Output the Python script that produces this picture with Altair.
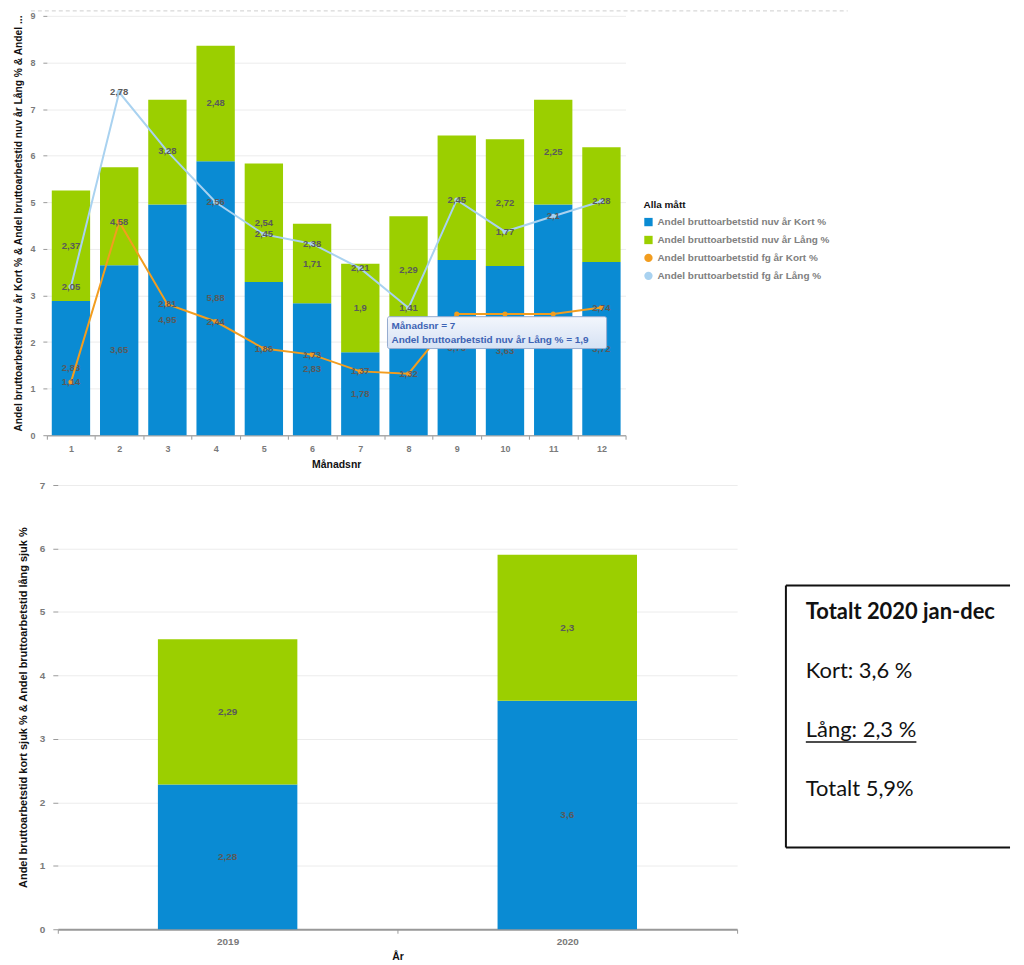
import altair as alt
import pandas as pd

# ---------------- data ----------------
months = list(range(1, 13))
nuv_kort = [2.88, 3.65, 4.95, 5.88, 3.29, 2.83, 1.78, 2.41, 3.76, 3.63, 4.95, 3.72]
nuv_lang = [2.37, 2.10, 2.25, 2.48, 2.54, 1.71, 1.90, 2.29, 2.67, 2.72, 2.25, 2.46]
fg_kort = [1.14, 4.58, 2.81, 2.44, 1.86, 1.73, 1.37, 1.32, 2.60, 2.60, 2.60, 2.74]
fg_lang = [2.05, 2.78, 3.28, 2.56, 2.45, 2.38, 2.21, 1.41, 2.45, 1.77, 2.10, 2.28]

hidden_nuv_kort_labels = [5, 8, 11]
hidden_nuv_lang_labels = [2, 3, 9, 12]
hidden_fg_kort_labels = [9, 10, 11]

years = ["2019", "2020"]
year_kort = [2.28, 3.6]
year_lang = [2.29, 2.3]

series = [
    "Andel bruttoarbetstid nuv år Kort %",
    "Andel bruttoarbetstid nuv år Lång %",
    "Andel bruttoarbetstid fg år Kort %",
    "Andel bruttoarbetstid fg år Lång %",
]
colors = ["#0a8bd3", "#9bcf00", "#f29d1f", "#a9d2f0"]
shapes = ["square", "square", "circle", "circle"]

top_y_title = "Andel bruttoarbetstid nuv år Kort % & Andel bruttoarbetstid nuv år Lång % & Andel ..."
bottom_y_title = "Andel bruttoarbetstid kort sjuk % & Andel bruttoarbetstid lång sjuk %"
tip_month = 7


def sv(v):
    s = f"{v:.2f}".rstrip("0").rstrip(".")
    return s.replace(".", ",")


FONT = "Liberation Sans"
LABEL_COLOR = "#7a7a7a"
VAL_COLOR = "#5a5a5a"
col_of = dict(zip(series, colors))

SHIFT = 11  # top plot starts further left than the bottom plot
TOP_W, TOP_H = 570, 421

# ---------------- top chart ----------------
bar_rows = []
for m, k, l in zip(months, nuv_kort, nuv_lang):
    bar_rows.append(dict(month=m, serie=series[0], col=col_of[series[0]], start=0, end=k,
                         mid=k / 2, label=sv(k), show=m not in hidden_nuv_kort_labels))
    bar_rows.append(dict(month=m, serie=series[1], col=col_of[series[1]], start=k, end=k + l,
                         mid=k + l / 2, label=sv(l), show=m not in hidden_nuv_lang_labels))
bars_df = pd.DataFrame(bar_rows)

line_rows = []
for m, k, l in zip(months, fg_kort, fg_lang):
    line_rows.append(dict(month=m, serie=series[2], col=col_of[series[2]], y=k, label=sv(k),
                          show=m not in hidden_fg_kort_labels))
    line_rows.append(dict(month=m, serie=series[3], col=col_of[series[3]], y=k + l, label=sv(l),
                          show=True))
lines_df = pd.DataFrame(line_rows)

color_scale = alt.Scale(domain=series, range=colors)
shape_scale = alt.Scale(domain=series, range=shapes)

xm = alt.X(
    "month:O",
    title="Månadsnr",
    scale=alt.Scale(paddingInner=0, paddingOuter=0, range=[-SHIFT, TOP_W]),
    axis=alt.Axis(
        labelAngle=0, labelFont=FONT, labelFontSize=9, labelFontWeight="bold",
        labelColor=LABEL_COLOR, tickColor="#999", tickSize=4, labelPadding=5,
        domainColor="#aaa", domainWidth=1.5, tickBand="extent",
        titleFont=FONT, titleFontSize=10.5, titleFontWeight="bold", titleColor="#111",
        titlePadding=6, grid=False,
    ),
)
ytop_axis = alt.Axis(
    values=list(range(10)), format="d", title=None, offset=SHIFT,
    labelFont=FONT, labelFontSize=9, labelFontWeight="bold",
    labelColor=LABEL_COLOR, tickColor="#999", tickSize=4, labelPadding=8,
    domain=False, gridColor="#ececec",
)
ytop_scale = alt.Scale(domain=[0, 9], nice=False)


def ytop(field):
    return alt.Y(field, scale=ytop_scale, axis=ytop_axis)


bars = alt.Chart(bars_df).mark_bar(width=38.5).encode(
    x=xm,
    y=ytop("start:Q"),
    y2="end:Q",
    color=alt.Color("col:N", scale=None),
)
bar_labels = alt.Chart(bars_df).transform_filter("datum.show").mark_text(
    font=FONT, fontSize=9.5, fontWeight="bold", color=VAL_COLOR
).encode(x=xm, y=ytop("mid:Q"), text="label:N")

lines = alt.Chart(lines_df).mark_line(strokeWidth=2).encode(
    x=xm, y=ytop("y:Q"),
    color=alt.Color("col:N", scale=None), detail="serie:N",
)
legend_kw = dict(
    title="Alla mått", orient="none", legendX=599 - SHIFT, legendY=185,
    titleFont=FONT, titleFontSize=10, titleFontWeight="bold", titleColor="#111",
    labelFont=FONT, labelFontSize=10, labelFontWeight="bold", labelColor="#808080",
    symbolSize=70, symbolStrokeWidth=0, rowPadding=8, titlePadding=7, labelLimit=400,
)
points = alt.Chart(lines_df).mark_point(filled=True, size=26, opacity=1).encode(
    x=xm, y=ytop("y:Q"),
    color=alt.Color("serie:N", scale=color_scale, legend=alt.Legend(**legend_kw)),
    shape=alt.Shape("serie:N", scale=shape_scale, legend=alt.Legend(**legend_kw)),
)
line_labels = alt.Chart(lines_df).transform_filter("datum.show").mark_text(
    font=FONT, fontSize=9.5, fontWeight="bold", color=VAL_COLOR
).encode(x=xm, y=ytop("y:Q"), text="label:N")

one = pd.DataFrame({"a": [0]})
ytitle_top = alt.Chart(one).mark_text(
    angle=270, align="center", baseline="middle", font=FONT, fontSize=10.3,
    fontWeight="bold", color="#111"
).encode(x=alt.value(-28 - SHIFT), y=alt.value(TOP_H / 2 - 2), text=alt.value(top_y_title))
dash = alt.Chart(one).mark_rule(color="#cfcfcf", strokeDash=[4, 3], strokeWidth=1).encode(
    x=alt.value(-16 - SHIFT), x2=alt.value(804 - SHIFT), y=alt.value(-5)
)
tip_grad = alt.Gradient(
    gradient="linear", x1=0, y1=0, x2=0, y2=1,
    stops=[alt.GradientStop(color="#f3f6fc", offset=0), alt.GradientStop(color="#d6e2f4", offset=1)],
)
tip_rect = alt.Chart(one).mark_rect(fill=tip_grad, stroke="#94abd0", strokeWidth=1, cornerRadius=2).encode(
    x=alt.value(342 - SHIFT), x2=alt.value(562 - SHIFT), y=alt.value(302), y2=alt.value(334)
)
tip_line1 = alt.Chart(one).mark_text(
    align="left", baseline="middle", font=FONT, fontSize=10, fontWeight="bold", color="#3d63b4"
).encode(x=alt.value(346 - SHIFT), y=alt.value(311), text=alt.value(f"Månadsnr = {tip_month}"))
tip_line2 = alt.Chart(one).mark_text(
    align="left", baseline="middle", font=FONT, fontSize=10, fontWeight="bold", color="#3d63b4"
).encode(x=alt.value(346 - SHIFT), y=alt.value(325),
         text=alt.value(f"{series[1]} = {sv(nuv_lang[tip_month - 1])}"))

top = alt.layer(
    dash, ytitle_top, bars, bar_labels, lines, points, line_labels, tip_rect, tip_line1, tip_line2
).properties(width=TOP_W, height=TOP_H)

# ---------------- bottom chart ----------------
yrows = []
for yr, k, l in zip(years, year_kort, year_lang):
    yrows.append(dict(year=yr, col=colors[0], start=0, end=k, mid=k / 2, label=sv(k)))
    yrows.append(dict(year=yr, col=colors[1], start=k, end=k + l, mid=k + l / 2, label=sv(l)))
year_df = pd.DataFrame(yrows)

xy = alt.X(
    "year:N", title="År",
    scale=alt.Scale(paddingInner=0, paddingOuter=0),
    axis=alt.Axis(
        labelAngle=0, labelFont=FONT, labelFontSize=10, labelFontWeight="bold",
        labelColor=LABEL_COLOR, tickColor="#999", tickSize=4, labelPadding=3,
        domainColor="#999", domainWidth=2, tickBand="extent",
        titleFont=FONT, titleFontSize=10.5, titleFontWeight="bold", titleColor="#111",
        titlePadding=5, grid=False,
    ),
)
ybot_scale = alt.Scale(domain=[0, 7], nice=False)
ybot_axis = alt.Axis(
    values=list(range(8)), format="d", title=bottom_y_title, titleLimit=1000,
    titleFont=FONT, titleFontSize=11, titleFontWeight="bold", titleColor="#111",
    titlePadding=10.5, labelFont=FONT, labelFontSize=10, labelFontWeight="bold",
    labelColor=LABEL_COLOR, tickColor="#999", tickSize=5, labelPadding=8,
    domain=False, gridColor="#ececec",
)
ybars = alt.Chart(year_df).mark_bar(width=140).encode(
    x=xy,
    y=alt.Y("start:Q", scale=ybot_scale, axis=ybot_axis),
    y2="end:Q",
    color=alt.Color("col:N", scale=None),
)
ylabels = alt.Chart(year_df).mark_text(
    font=FONT, fontSize=10, fontWeight="bold", color=VAL_COLOR
).encode(x=xy, y=alt.Y("mid:Q", scale=ybot_scale, axis=ybot_axis), text="label:N")
left_spacer = alt.Chart(one).mark_rule(color="white", strokeOpacity=0, strokeWidth=1).encode(
    x=alt.value(-43.5), y=alt.value(200), y2=alt.value(210)
)
bottom = alt.layer(left_spacer, ybars, ylabels).properties(width=682, height=446)

# ---------------- text box ----------------
box_lines = [
    "Totalt 2020 jan-dec",
    f"Kort: {sv(year_kort[1])} %",
    f"Lång: {sv(year_lang[1])} %",
    f"Totalt {sv(round(year_kort[1] + year_lang[1], 2))}%",
]
box_df = pd.DataFrame({"row": list(range(len(box_lines))), "txt": box_lines,
                       "bold": [True, False, False, False]})
BOX_W = 225
BOX_TOP = 101
BOX_BOT = 364
box_y = alt.Y("row:O", axis=None,
              scale=alt.Scale(type="point", range=[BOX_TOP + 27, BOX_TOP + 204], padding=0))
box_bold = alt.Chart(box_df).transform_filter("datum.bold").mark_text(
    align="left", baseline="middle", font="Lato", fontSize=22, fontWeight="bold", color="#111"
).encode(x=alt.value(20), y=box_y, text="txt:N")
box_norm = alt.Chart(box_df).transform_filter("!datum.bold").mark_text(
    align="left", baseline="middle", font="Lato", fontSize=22, color="#111"
).encode(x=alt.value(20), y=box_y, text="txt:N")
underline = alt.Chart(one).mark_rule(color="#111", strokeWidth=1.5).encode(
    x=alt.value(20), x2=alt.value(131), y=alt.value(BOX_TOP + 157)
)
b_left = alt.Chart(one).mark_rule(color="#111", strokeWidth=2).encode(
    x=alt.value(0), y=alt.value(BOX_TOP), y2=alt.value(BOX_BOT)
)
b_top = alt.Chart(one).mark_rule(color="#111", strokeWidth=2).encode(
    x=alt.value(0), x2=alt.value(BOX_W), y=alt.value(BOX_TOP)
)
b_bot = alt.Chart(one).mark_rule(color="#111", strokeWidth=2).encode(
    x=alt.value(0), x2=alt.value(BOX_W), y=alt.value(BOX_BOT)
)
box = alt.layer(b_left, b_top, b_bot, box_bold, box_norm, underline).properties(
    width=BOX_W, height=440
)

chart = alt.concat(
    top,
    alt.hconcat(bottom, box, spacing=47),
    columns=1,
    spacing=10,
    align="none",
).properties(
    padding={"left": 5, "top": 0, "right": 5, "bottom": 5},
    background="white",
).configure_view(strokeWidth=0, stroke="transparent")

chart.save("out.html", embed_options={"renderer": "svg", "actions": False})
